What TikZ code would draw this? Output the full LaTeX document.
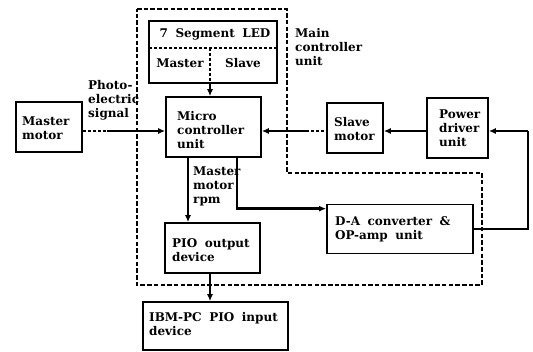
\documentclass[tikz,border=0pt]{standalone}
\usepackage{fontspec}
\setmainfont{DejaVu Serif}[WordSpace=1.8]
\usetikzlibrary{arrows.meta}
\begin{document}
\begin{tikzpicture}[x=1pt,y=-1pt,
  font=\fontsize{12}{14}\selectfont\bfseries,
  box/.style={draw, line width=1.7pt, inner sep=0pt, align=left},
  lbl/.style={inner sep=0pt, align=left, anchor=west},
  conn/.style={line width=2.4pt},
  dsig/.style={line width=1.3pt, dash pattern=on 3pt off 2pt},
  arr/.style={conn, -{Latex[length=7pt,width=6pt]}},
  outer/.style={line width=1.3pt, dash pattern=on 4.5pt off 2.2pt}]
\useasboundingbox (0,0) rectangle (533,351);

% outer dashed boundary of the main controller unit
\draw[outer] (137,9) -- (287,9) -- (287,173) -- (482,173) -- (482,285) -- (137,285) -- cycle;

% boxes
\node[box, minimum width=66pt, minimum height=50pt] (mm) at (49,127) {};
\node[lbl] (mmt) at (22,128) {Master\\motor};

\node[box, minimum width=95pt, minimum height=60pt] (micro) at (213.5,127) {};
\node[lbl] (microt) at (177,130) {Micro\\controller\\unit};

\node[box, minimum width=128pt, minimum height=62pt] (led) at (213,52) {};
\node[inner sep=0pt] (ledt) at (215,34) {7 Segment LED};
\node[inner sep=0pt] (ledm) at (180,63) {Master};
\node[inner sep=0pt] (leds) at (243,63) {Slave};
\draw[dsig] (149,48) -- (277,48);
\draw[dsig] (210,48) -- (210,83);

\node[box, minimum width=56pt, minimum height=50pt] (slave) at (355,128) {};
\node[lbl] (slavet) at (334,129) {Slave\\motor};

\node[box, minimum width=61pt, minimum height=60pt] (power) at (457.5,128) {};
\node[lbl] (powert) at (439,128) {Power\\driver\\unit};

\node[box, minimum width=146pt, minimum height=49pt] (da) at (400,229) {};
\node[lbl] (dat) at (335,229) {D-A converter \&\\OP-amp unit};

\node[box, minimum width=95pt, minimum height=50pt] (pio) at (212.5,248) {};
\node[lbl] (piot) at (172,250) {PIO output\\device};

\node[box, minimum width=145pt, minimum height=48pt] (ibm) at (215.5,326) {};
\node[lbl] (ibmt) at (149,324) {IBM-PC PIO input\\device};

% labels
\node[lbl] (mainl) at (295,47) {Main\\controller\\unit};
\node[lbl] (photol) at (88,100) {Photo-\\electric\\signal};
\node[lbl] (rpml) at (193,186) {Master\\motor\\rpm};

% coordinates
\coordinate (hl) at (0,131);
\coordinate (p1) at (107,131);
\coordinate (p2) at (306,131);
\coordinate (cr) at (528,131);
\coordinate (xl) at (188,0);
\coordinate (xr) at (237,0);
\coordinate (xm) at (210,0);
\coordinate (dain) at ([yshift=-5pt]da.north west);

% connectors
\draw[dsig] (mm.east |- hl) -- (p1);
\draw[arr] (p1) -- (micro.west |- hl);
\draw[arr] (p2) -- (micro.east |- hl);
\draw[dsig] (p2) -- (slave.west |- hl);
\draw[arr] (power.west |- hl) -- (slave.east |- hl);
\draw[arr] (cr) -- (power.east |- hl);
\draw[conn] (cr) |- (da.east);
\draw[arr] (led.south -| xm) -- (micro.north -| xm);
\draw[arr] (micro.south -| xl) -- (pio.north -| xl);
\draw[arr] (micro.south -| xr) |- (dain);
\draw[arr] (pio.south -| xm) -- (ibm.north -| xm);
\end{tikzpicture}
\end{document}
